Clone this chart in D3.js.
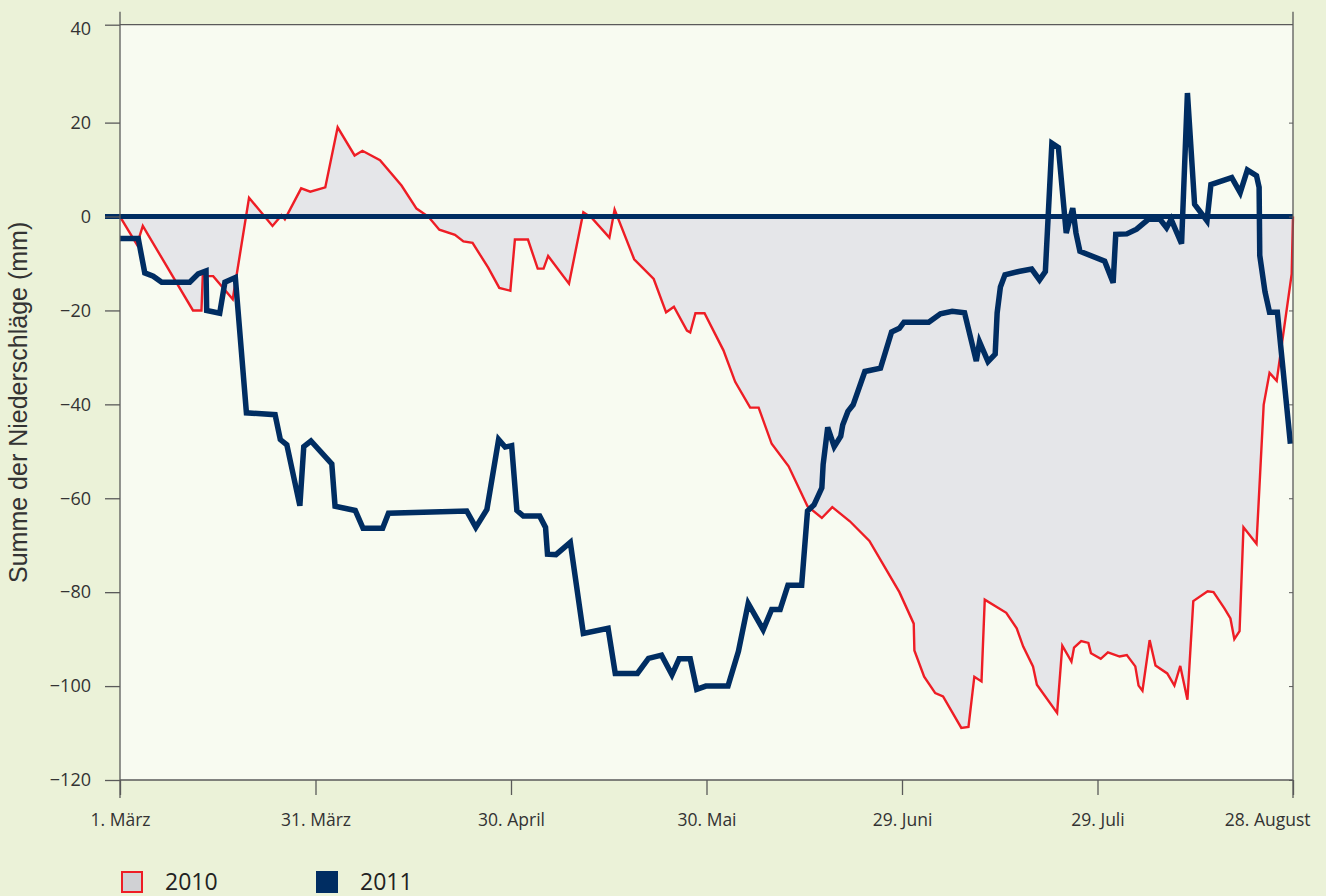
<!DOCTYPE html>
<html>
<head>
<meta charset="utf-8">
<script src="https://cdn.jsdelivr.net/npm/d3@7"></script>
<style>
  body { margin: 0; background: #ebf2d8; }
  svg { display: block; }
</style>
</head>
<body>
<div id="chart"></div>
<script>
// days after 1 March, cumulative deviation in mm
var days2010 = [0, 2.6, 3.5, 11.2, 12.5, 12.7, 14.3, 17.3, 19.8, 23.4, 24.8, 25.3, 27.8, 29.2, 31.5, 33.4, 36.0, 37.2, 39.9,
    43.2, 45.5, 47.3, 49.0, 51.4, 52.7, 54.1, 56.5, 58.2, 59.9, 60.6, 62.6, 64.1, 65.0, 65.7, 68.9, 71.1, 72.4, 75.1, 75.9,
    78.9, 81.9, 83.8, 85.0, 87.0, 87.5, 88.3, 89.7, 92.6, 94.4, 96.7, 98.0, 100.0, 102.6, 105.5, 107.7, 109.3, 112.0, 115.0,
    119.6, 121.8, 121.9, 123.4, 125.1, 126.3, 129.1, 130.2, 131.1, 132.2, 132.7, 136.0, 137.6, 138.6, 140.1, 140.7, 143.8,
    144.6, 146.0, 146.4, 147.5, 148.6, 149.0, 150.5, 151.6, 153.4, 154.5, 155.8, 156.3, 156.9, 158.0, 158.9, 160.7, 161.8,
    162.7, 163.8, 164.7, 166.9, 167.8, 169.5, 170.4, 171.0, 171.8, 172.4, 174.4, 175.5, 176.4, 177.5, 179.8, 180]
var mm2010 = [0, -6, -2, -20, -20, -12.7, -12.7, -17.6, 4, -2, 0.3, -0.6, 6, 5.3, 6.2, 19, 13, 14, 12,
    6.6, 1.7, 0, -2.8, -3.9, -5.3, -5.6, -10.9, -15.2, -15.8, -4.9, -4.9, -11.1, -11.1, -8.4, -14.3, 0.9, -0.3, -4.5, 1.5,
    -9.1, -13.3, -20.4, -19.2, -24.3, -24.7, -20.6, -20.6, -28.5, -35.2, -40.7, -40.7, -48.4, -53.2, -61.7, -64.2, -61.9, -64.9, -69.1,
    -80, -86.7, -92.4, -98, -101.5, -102.2, -108.9, -108.7, -98, -99, -81.6, -84.4, -87.7, -91.6, -95.8, -99.7, -105.7,
    -91.4, -94.8, -91.8, -90.4, -90.8, -93, -94.2, -92.8, -93.7, -93.4, -95.8, -99.9, -101, -90.2, -95.6, -97.3, -99.9,
    -95.7, -102.9, -81.9, -79.8, -80, -83.5, -85.6, -90, -88.3, -66.2, -69.7, -40.1, -33.3, -35, -12.2, 0]

var days2011 = [0, 2.8, 3.8, 5.1, 6.4, 10.7, 12.0, 13.2, 13.3, 15.3, 16.1, 17.7, 19.4, 23.8, 24.6, 25.6, 27.6, 28.2, 29.3,
    32.5, 33.0, 36.1, 37.3, 40.3, 41.2, 53.2, 54.6, 56.3, 58.1, 59.1, 60.1, 60.9, 61.9, 64.4, 65.3, 65.6, 66.9, 69.1, 71.1,
    74.9, 76.0, 79.4, 81.1, 83.1, 84.7, 85.8, 87.5, 88.5, 89.9, 93.3, 94.9, 96.4, 98.7, 100.0, 101.3, 102.5, 104.6, 105.5,
    106.5, 107.7, 107.9, 108.6, 109.6, 110.6, 110.9, 111.7, 112.5, 114.3, 116.7, 118.4, 119.6, 120.3, 124.1, 125.9, 127.7,
    129.6, 131.4, 131.9, 133.2, 134.3, 134.6, 135.1, 135.8, 137.9, 139.9, 141.1, 142.0, 143.0, 144.0, 145.2, 146.2, 146.7,
    147.3, 151.1, 152.4, 152.8, 154.5, 156.0, 157.8, 159.6, 160.6, 161.3, 162.9, 163.8, 164.9, 166.8, 167.4, 170.6, 171.9,
    173.0, 174.4, 174.8, 174.9, 175.7, 176.4, 177.6, 179.6]
var mm2011 = [-4.7, -4.7, -12, -12.7, -14, -14, -12.2, -11.6, -20, -20.6, -14, -13, -41.8, -42.2, -47.5, -48.6, -61.6, -49, -47.8,
    -52.7, -61.7, -62.6, -66.4, -66.4, -63.2, -62.7, -66.2, -62.4, -47.5, -49.1, -48.8, -62.6, -63.8, -63.8, -66.2, -71.9, -72, -69.4, -88.8,
    -87.7, -97.3, -97.3, -94.1, -93.4, -97.6, -94.2, -94.2, -100.7, -100, -100, -92.6, -82.4, -88, -83.7, -83.7, -78.5, -78.5, -62.7,
    -61.4, -57.8, -52.8, -44.9, -49, -46.8, -44.4, -41.5, -40.1, -33, -32.3, -24.6, -23.8, -22.5, -22.5, -20.7, -20.2,
    -20.5, -30.8, -26.7, -30.9, -29.3, -20.5, -15, -12.4, -11.7, -11.2, -13.5, -11.7, 15.6, 14.7, -3.5, 1.8, -3.5,
    -7.4, -9.5, -14.1, -3.8, -3.7, -2.7, -0.6, -0.6, -2.4, -0.6, -5.8, 26.3, 2.6, -0.9, 6.8, 8.3, 5.1,
    9.9, 8.7, 6.2, -8.3, -16, -20.4, -20.4, -48.4]

var tickDays = [0, 30, 60, 90, 120, 150, 180]
var tickLabels = ["1. März", "31. März", "30. April", "30. Mai", "29. Juni", "29. Juli", "28. August"]
var yTicks = [40, 20, 0, -20, -40, -60, -80, -100, -120]
var years = ["2010", "2011"]

var navy = "#002d62",
    red = "#ee1d25",
    total_width = 1326,
    total_height = 896

var x = d3.scaleLinear().domain([0, 180]).range([120, 1293])
var y = d3.scaleLinear().domain([-120, 40]).range([780, 28.7])
var plotTop = y(40) - 4

var s2010 = days2010.map((d, i) => ({day: d, mm: mm2010[i]}))
var s2011 = days2011.map((d, i) => ({day: d, mm: mm2011[i]}))

var svg = d3.select("#chart").append("svg")
    .attr("width", total_width)
    .attr("height", total_height)

svg.append("rect")
    .attr("width", total_width)
    .attr("height", total_height)
    .attr("fill", "#ebf2d8")

// plot area
svg.append("rect")
    .attr("x", x(0))
    .attr("y", plotTop)
    .attr("width", x(180) - x(0))
    .attr("height", y(-120) - plotTop)
    .attr("fill", "#f8fbf1")

// grey area between 2010 and zero
svg.append("path")
    .datum(s2010)
    .attr("fill", "#e5e6e9")
    .attr("d", d3.area().x(d => x(d.day)).y0(y(0)).y1(d => y(d.mm)))

svg.append("path")
    .datum(s2010)
    .attr("fill", "none")
    .attr("stroke", red)
    .attr("stroke-width", 2.4)
    .attr("d", d3.line().x(d => x(d.day)).y(d => y(d.mm)))

// zero line
svg.append("line")
    .attr("x1", x(0) - 15)
    .attr("x2", x(180))
    .attr("y1", y(0))
    .attr("y2", y(0))
    .attr("stroke", navy)
    .attr("stroke-width", 5)

svg.append("path")
    .datum(s2011)
    .attr("fill", "none")
    .attr("stroke", navy)
    .attr("stroke-width", 5.5)
    .attr("stroke-linejoin", "miter")
    .attr("d", d3.line().x(d => x(d.day)).y(d => y(d.mm)))

// axes
var axisColor = "#5a5a5a"
var yAxis = svg.append("g")
    .attr("transform", "translate(" + x(0) + ",0)")
    .call(d3.axisLeft(y).tickValues(yTicks).tickSize(15).tickPadding(14)
        .tickFormat(d => d < 0 ? "\u2212" + Math.abs(d) : d))
yAxis.select(".domain").remove()
yAxis.selectAll("line")
    .attr("stroke", axisColor)
    .attr("stroke-width", 1.3)
    .attr("transform", d => d == 40 ? "translate(0," + (plotTop - y(40)) + ")" : null)
yAxis.selectAll("text")
    .attr("fill", "#333")
    .style("font-family", "'Open Sans', sans-serif")
    .style("font-size", "18px")

var rAxis = svg.append("g")
    .attr("transform", "translate(" + x(180) + ",0)")
    .call(d3.axisLeft(y).tickValues(yTicks.slice(1)).tickSize(4).tickFormat(""))
rAxis.select(".domain").remove()
rAxis.selectAll("line").attr("stroke", axisColor)

var xAxis = svg.append("g")
    .attr("transform", "translate(0," + y(-120) + ")")
    .call(d3.axisBottom(x).tickValues(tickDays).tickSize(15)
        .tickFormat((d, i) => tickLabels[i]))
xAxis.select(".domain").remove()
xAxis.selectAll("line").attr("stroke", axisColor).attr("stroke-width", 1.3)
xAxis.selectAll("text")
    .attr("y", 46)
    .attr("dy", null)
    .attr("fill", "#333")
    .style("font-family", "'Open Sans', sans-serif")
    .style("font-size", "17.5px")
// last label sits left of its tick so it stays on the page
xAxis.selectAll("text").filter(d => d == 180)
    .attr("text-anchor", "end")
    .attr("x", 17)

// frame
var frame = svg.append("g").attr("stroke", axisColor).attr("stroke-width", 1.3)
frame.append("line").attr("x1", x(0)).attr("x2", x(180)).attr("y1", plotTop).attr("y2", plotTop)
frame.append("line").attr("x1", x(0)).attr("x2", x(180)).attr("y1", y(-120)).attr("y2", y(-120))
frame.append("line").attr("x1", x(0)).attr("x2", x(0)).attr("y1", plotTop - 13).attr("y2", y(-120) + 18)
frame.append("line").attr("x1", x(180)).attr("x2", x(180)).attr("y1", plotTop - 13).attr("y2", y(-120) + 18)

// y title
svg.append("text")
    .attr("transform", "translate(27," + ((plotTop + y(-120)) / 2) + ") rotate(-90)")
    .attr("text-anchor", "middle")
    .attr("fill", "#333")
    .style("font-family", "'Liberation Sans', Arial, sans-serif")
    .style("font-size", "25px")
    .text("Summe der Niederschläge (mm)")

// legend
var legend = svg.append("g")
    .selectAll("g")
    .data(years)
    .enter()
    .append("g")
    .attr("transform", (d, i) => "translate(" + (x(0) + 1 + i * 195) + ",871)")

legend.append("rect")
    .attr("x", d => d == "2010" ? 1 : 0)
    .attr("y", d => d == "2010" ? 1 : 0)
    .attr("width", d => d == "2010" ? 20 : 22)
    .attr("height", d => d == "2010" ? 20 : 22)
    .attr("fill", d => d == "2010" ? "#d0d1d4" : navy)
    .attr("stroke", d => d == "2010" ? red : "none")
    .attr("stroke-width", 2)

legend.append("text")
    .attr("x", 44)
    .attr("y", 18.5)
    .attr("fill", "#222")
    .style("font-family", "'Open Sans', sans-serif")
    .style("font-size", "23px")
    .text(d => d)
</script>
</body>
</html>
